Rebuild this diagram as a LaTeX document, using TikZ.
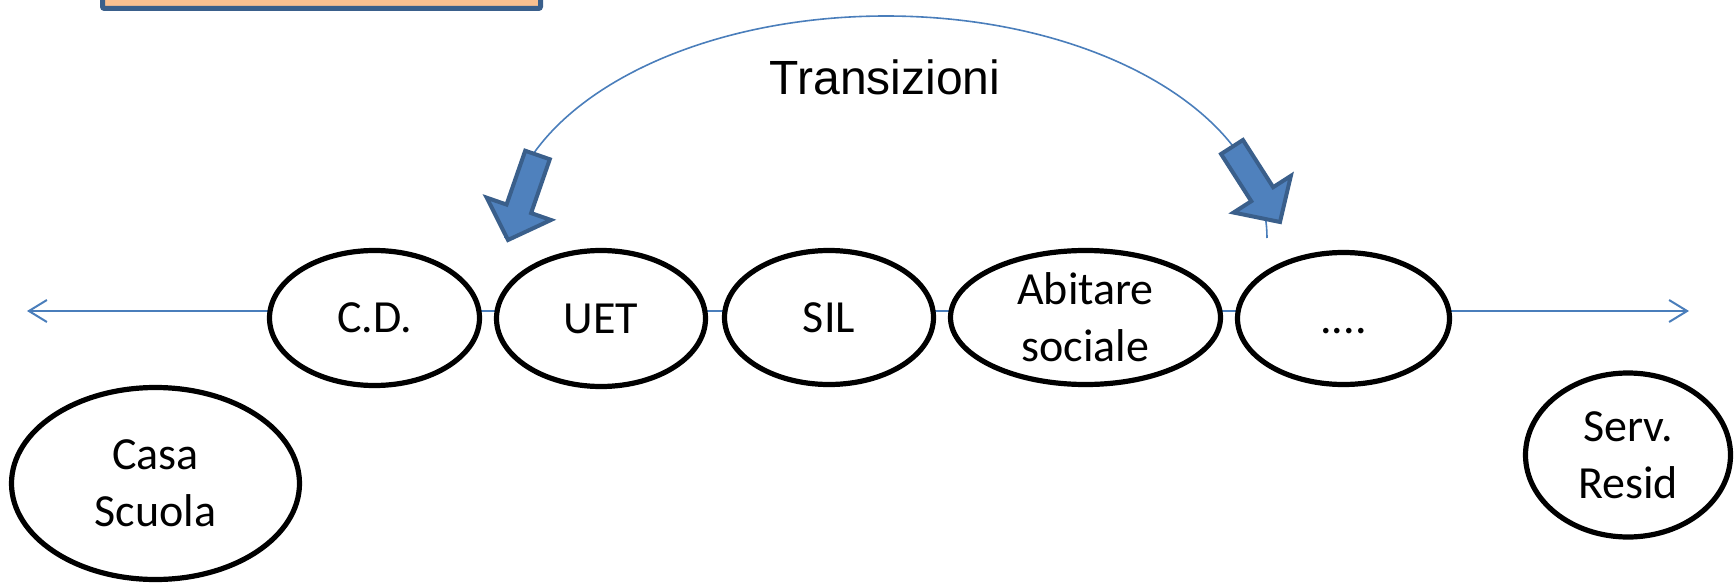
\documentclass[tikz,border=0pt]{standalone}
\usepackage{fontspec}
\setmainfont{Carlito}
\newfontfamily\arialf{Liberation Sans}
\usetikzlibrary{shapes.geometric,arrows.meta,calc}
\definecolor{boxfill}{HTML}{FAC090}
\definecolor{boxline}{HTML}{3A5F8B}
\definecolor{arrfill}{HTML}{4F81BD}
\definecolor{arrline}{HTML}{3A5F8B}
\definecolor{thinline}{HTML}{4A7EBB}
\tikzset{
  ell/.style={ellipse, draw=black, line width=5.2pt, fill=white, inner sep=0pt,
    align=center, font=\fontsize{46}{57}\selectfont},
  hline/.style={draw=thinline, line width=2pt,
    {Straight Barb[length=18pt,width=22pt]}-{Straight Barb[length=18pt,width=22pt]}},
  arcline/.style={draw=thinline, line width=1.6pt},
  blockarr/.style={fill=arrfill, draw=arrline, line width=4pt, line join=miter},
  topbox/.style={fill=boxfill, draw=boxline, line width=5pt, rounded corners=2pt},
}
\newcommand{\myblockarrow}[3]{% #1 start, #2 tip, #3 id
  \coordinate (hb#3) at ($(#2)!33pt!(#1)$);
  \filldraw[blockarr]
    ($(#1)!13pt!90:(#2)$) -- ($(hb#3)!13pt!90:(#2)$) -- ($(hb#3)!34pt!90:(#2)$)
    -- (#2) -- ($(hb#3)!34pt!-90:(#2)$) -- ($(hb#3)!13pt!-90:(#2)$)
    -- ($(#1)!13pt!-90:(#2)$) -- cycle;
}
\begin{document}
\begin{tikzpicture}[x=1pt,y=-1pt]
\useasboundingbox (0,0) rectangle (1735,586);
\clip (0,0) rectangle (1735,586);

% top box (cropped)
\coordinate (boxA) at (102.5,-30);
\coordinate (boxB) at (540.5,8.5);
\path[topbox] (boxA) rectangle (boxB);

% arc
\coordinate (arcL) at (505,238);
\draw[arcline] (arcL) arc[start angle=180, end angle=0, x radius=381pt, y radius=222pt];

% horizontal line
\coordinate (lineL) at (27,311);
\coordinate (lineR) at (1689,311);
\draw[hline] (lineL) -- (lineR);

% ellipses
\node[ell, minimum width=210pt, minimum height=135pt] (cd) at (374.5,318) {C.D.};
\node[ell, minimum width=209pt, minimum height=136pt] (uet) at (601,318.5) {UET};
\node[ell, minimum width=209pt, minimum height=134pt] (sil) at (829,317.5) {SIL};
\node[ell, minimum width=270pt, minimum height=134pt] (abit) at (1085.5,317.5) {Abitare\\sociale};
\node[ell, minimum width=212pt, minimum height=132pt] (dots) at (1343.5,318.5) {\vphantom{C.D.}....};
\node[ell, minimum width=288pt, minimum height=192pt] (casa) at (155.5,483.5) {Casa\\Scuola};
\node[ell, minimum width=205pt, minimum height=164pt] (serv) at (1628,455) {Serv.\\Resid};

% block arrows
\coordinate (laS) at (537.5,155);
\coordinate (laT) at (508,240);
\myblockarrow{laS}{laT}{l}
\coordinate (raS) at (1232,147);
\coordinate (raT) at (1280,222);
\myblockarrow{raS}{raT}{r}

% label
\node[anchor=base, inner sep=0pt, font=\arialf\fontsize{48}{56}\selectfont] (trans) at (885,95) {Transizioni};
\end{tikzpicture}
\end{document}
